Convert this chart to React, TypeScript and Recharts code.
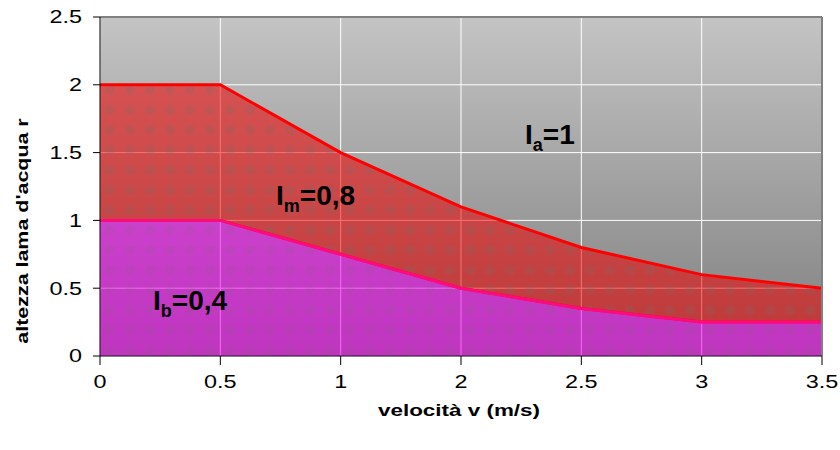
import React from 'react';
import { AreaChart, Area, XAxis, YAxis, CartesianGrid, ReferenceLine } from 'recharts';

// velocità (categorie asse x)
const VELOCITA = ['0', '0.5', '1', '2', '2.5', '3', '3.5'];
// limite superiore (Im / Ia) e inferiore (Ib / Im)
const H_SUP = [2, 2, 1.5, 1.1, 0.8, 0.6, 0.5];
const H_INF = [1, 1, 0.75, 0.5, 0.35, 0.25, 0.25];
const Y_TICKS = [0, 0.5, 1, 1.5, 2, 2.5];

const data = VELOCITA.map((v, i) => ({ v, hi: H_SUP[i], lo: H_INF[i] }));

const FONT = '"Liberation Sans", Arial, sans-serif';

const YTick = ({ x, y, payload }: any) => (
  <text transform={`translate(${x},${y}) scale(1.3,1)`} textAnchor="end" dy="0.35em" fontSize={18} fontFamily={FONT} fill="#000">
    {payload.value}
  </text>
);

const XTick = ({ x, y, payload }: any) => (
  <text transform={`translate(${x},${y}) scale(1.3,1)`} textAnchor="middle" dy={21} fontSize={18} fontFamily={FONT} fill="#000">
    {payload.value}
  </text>
);

const Note = ({ x, y, sub, rest }: { x: number; y: number; sub: string; rest: string }) => (
  <text x={x} y={y} fontSize={28} fontWeight="bold" fontFamily={FONT} fill="#000">
    I<tspan fontSize={18} dy={7}>{sub}</tspan><tspan dy={-7}>{rest}</tspan>
  </text>
);

export default function App() {
  return (
    <div style={{ position: 'absolute', left: 0, top: 0, width: 840, height: 450, background: '#fff' }}>
      <AreaChart width={840} height={450} data={data} margin={{ top: 17, right: 18, left: 0, bottom: 0 }}>
        <defs>
          <linearGradient id="bg" x1="0" y1="0" x2="0" y2="1">
            <stop offset="0%" stopColor="#c4c4c4" />
            <stop offset="100%" stopColor="#7e7e7e" />
          </linearGradient>
          <pattern id="patRed" width="20" height="20" patternUnits="userSpaceOnUse">
            <rect width="20" height="20" fill="#f00000" fillOpacity={0.55} />
            <circle cx="10" cy="10" r="5" fill="#6a6a6a" fillOpacity={0.2} />
          </pattern>
          <pattern id="patMag" width="20" height="20" patternUnits="userSpaceOnUse">
            <rect width="20" height="20" fill="#f000f0" fillOpacity={0.58} />
            <circle cx="10" cy="10" r="5" fill="#6a6a6a" fillOpacity={0.12} />
          </pattern>
        </defs>
        <CartesianGrid stroke="#ffffff" strokeWidth={1} fill="url(#bg)" fillOpacity={1} />
        <XAxis dataKey="v" tick={<XTick />} tickSize={9} tickMargin={2} stroke="#000" interval={0} height={94} />
        <YAxis domain={[0, 2.5]} ticks={Y_TICKS} tick={<YTick />} tickSize={7} tickMargin={11} stroke="#000" width={100} />
        <Area
          dataKey={(d: any) => [d.lo, d.hi]}
          type="linear"
          stroke="#ff0000"
          strokeWidth={3}
          fill="url(#patRed)"
          fillOpacity={1}
          dot={false}
          activeDot={false}
          isAnimationActive={false}
        />
        <Area
          dataKey="lo"
          type="linear"
          stroke="#ff0a7a"
          strokeWidth={3}
          fill="url(#patMag)"
          fillOpacity={1}
          dot={false}
          activeDot={false}
          isAnimationActive={false}
        />
        <ReferenceLine y={2.5} stroke="#808080" strokeWidth={2} />
        <ReferenceLine x="3.5" stroke="#808080" strokeWidth={2} />
      </AreaChart>
      <svg width={840} height={450} style={{ position: 'absolute', left: 0, top: 0, pointerEvents: 'none' }}>
        <Note x={525} y={144} sub="a" rest="=1" />
        <Note x={276} y={205} sub="m" rest="=0,8" />
        <Note x={153} y={310} sub="b" rest="=0,4" />
        <text transform="translate(28,231) rotate(-90) scale(1.34,1)" textAnchor="middle" fontSize={16} fontWeight="bold" fontFamily={FONT} fill="#000">
          altezza lama d'acqua r
        </text>
        <text transform="translate(459,416) scale(1.32,1)" textAnchor="middle" fontSize={17} fontWeight="bold" fontFamily={FONT} fill="#000">
          velocità v (m/s)
        </text>
      </svg>
    </div>
  );
}
